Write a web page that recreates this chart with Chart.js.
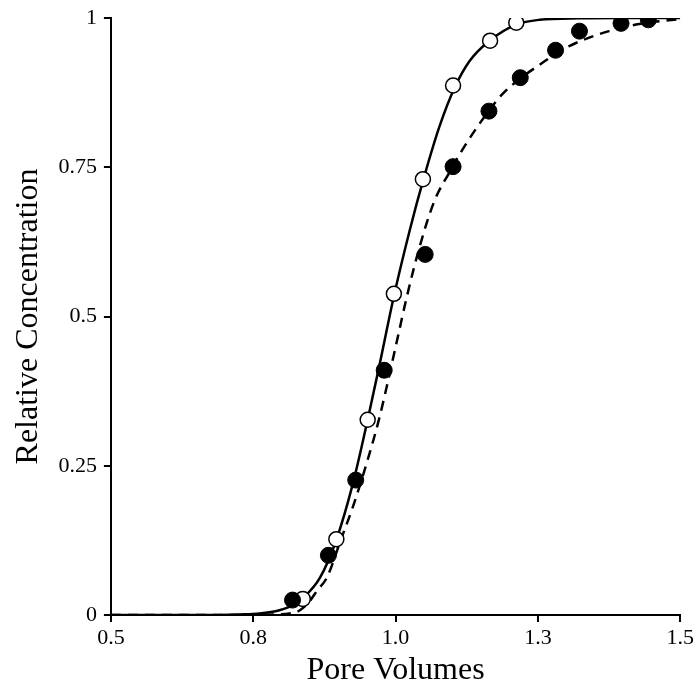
<!DOCTYPE html>
<html>
<head>
<meta charset="utf-8">
<script src="https://cdn.jsdelivr.net/npm/chart.js@4.4.1/dist/chart.umd.min.js"></script>
<style>
  html, body { margin: 0; padding: 0; background: #fff; }
  #wrap { width: 694px; height: 700px; }
</style>
</head>
<body>
<div id="wrap"><canvas id="myChart"></canvas></div>
<script>
// 측정값 (open circles)
const openX = [0.837, 0.896, 0.951, 0.997, 1.048, 1.101, 1.166, 1.212];
const openY = [0.027, 0.127, 0.327, 0.538, 0.730, 0.887, 0.962, 0.992];

// 측정값 (filled circles)
const filledX = [0.819, 0.882, 0.930, 0.980, 1.052, 1.101, 1.164, 1.219, 1.281, 1.323, 1.396, 1.444];
const filledY = [0.025, 0.100, 0.226, 0.410, 0.604, 0.751, 0.844, 0.900, 0.946, 0.978, 0.991, 0.997];

// 실선 (fit for open circles)
const solidX = [0.5, 0.65, 0.726, 0.761, 0.796, 0.823, 0.837, 0.867, 0.896, 0.925, 0.951, 0.972, 0.998, 1.025, 1.049, 1.077, 1.104, 1.130, 1.165, 1.212, 1.253, 1.323, 1.4, 1.5];
const solidY = [0, 0, 0.001, 0.0025, 0.008, 0.018, 0.028, 0.062, 0.126, 0.220, 0.327, 0.420, 0.538, 0.645, 0.730, 0.818, 0.884, 0.928, 0.962, 0.989, 0.997, 0.9995, 1, 1];

// 점선 (fit for filled circles)
const dashX = [0.5, 0.65, 0.744, 0.790, 0.814, 0.832, 0.849, 0.863, 0.879, 0.905, 0.925, 0.951, 0.972, 1.004, 1.019, 1.042, 1.068, 1.095, 1.121, 1.165, 1.188, 1.221, 1.258, 1.281, 1.305, 1.340, 1.375, 1.428, 1.498];
const dashY = [0, 0, 0, 0.001, 0.0025, 0.008, 0.023, 0.042, 0.062, 0.129, 0.181, 0.260, 0.332, 0.466, 0.530, 0.616, 0.693, 0.742, 0.785, 0.846, 0.873, 0.900, 0.925, 0.940, 0.953, 0.967, 0.978, 0.990, 0.998];

// 눈금
const xTicks = [0.5, 0.75, 1.0, 1.25, 1.5];
const xTickLabels = ['0.5', '0.8', '1.0', '1.3', '1.5'];
const yTicks = [0, 0.25, 0.5, 0.75, 1];
const yTickLabels = ['0', '0.25', '0.5', '0.75', '1'];

const toPts = (xs, ys) => xs.map((x, i) => ({ x: x, y: ys[i] }));
const serif = "'Liberation Serif', 'DejaVu Serif', serif";

let ctx = document.getElementById("myChart");

let config = {
    type: "scatter",
    data: {
        datasets: [
            {
                label: 'open',
                data: toPts(openX, openY),
                pointRadius: 7.5,
                pointBackgroundColor: '#fff',
                pointBorderColor: '#000',
                pointBorderWidth: 1.5,
                order: 1
            },
            {
                label: 'filled',
                data: toPts(filledX, filledY),
                pointRadius: 8,
                pointBackgroundColor: '#000',
                pointBorderColor: '#000',
                pointBorderWidth: 1,
                order: 0
            },
            {
                label: 'solid',
                data: toPts(solidX, solidY),
                showLine: true,
                borderColor: '#000',
                borderWidth: 2.5,
                pointRadius: 0,
                cubicInterpolationMode: 'monotone',
                order: 3
            },
            {
                label: 'dash',
                data: toPts(dashX, dashY),
                showLine: true,
                borderColor: '#000',
                borderWidth: 2.5,
                borderDash: [10, 7],
                pointRadius: 0,
                cubicInterpolationMode: 'monotone',
                order: 2
            }
        ]
    },
    options: {
        responsive: true,
        maintainAspectRatio: false,
        animation: false,
        layout: { padding: { left: 9, right: 0, top: 7, bottom: 13 } },
        plugins: {
            legend: { display: false },
            tooltip: { enabled: false }
        },
        scales: {
            x: {
                type: 'linear',
                min: 0.5,
                max: 1.5,
                afterBuildTicks: (axis) => { axis.ticks = xTicks.map(v => ({ value: v })); },
                ticks: {
                    color: '#000',
                    font: { family: serif, size: 22, lineHeight: 1.5 },
                    padding: 0,
                    maxRotation: 0,
                    callback: (v) => xTickLabels[xTicks.indexOf(v)]
                },
                grid: { drawOnChartArea: false, drawTicks: true, tickLength: 7, color: '#000', lineWidth: 2 },
                border: { color: '#000', width: 2 },
                title: {
                    display: true,
                    text: 'Pore Volumes',
                    color: '#000',
                    font: { family: serif, size: 32, lineHeight: 1.0 },
                    padding: { top: 0, bottom: 0 }
                }
            },
            y: {
                type: 'linear',
                min: 0,
                max: 1,
                afterBuildTicks: (axis) => { axis.ticks = yTicks.map(v => ({ value: v })); },
                ticks: {
                    color: '#000',
                    font: { family: serif, size: 22, lineHeight: 1.0 },
                    padding: 7,
                    callback: (v) => yTickLabels[yTicks.indexOf(v)]
                },
                grid: { drawOnChartArea: false, drawTicks: true, tickLength: 7, color: '#000', lineWidth: 2 },
                border: { color: '#000', width: 2 },
                title: {
                    display: true,
                    text: 'Relative Concentration',
                    color: '#000',
                    font: { family: serif, size: 32 },
                    padding: { top: 0, bottom: 4 }
                }
            }
        }
    }
};

let myChart = new Chart(ctx, config);
</script>
</body>
</html>
